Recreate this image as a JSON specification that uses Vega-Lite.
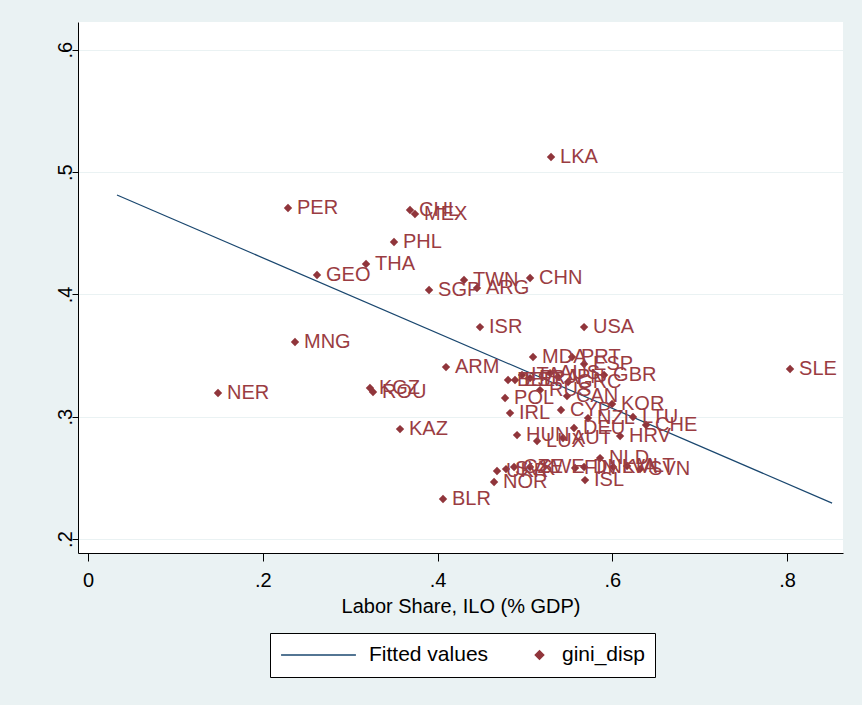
{
  "$schema": "https://vega.github.io/schema/vega-lite/v6.json",
  "width": 765,
  "height": 531,
  "autosize": {"type": "none"},
  "padding": {"left": 78, "top": 22, "right": 19, "bottom": 152},
  "background": "#eaf2f3",
  "config": {
    "view": {"fill": "white", "stroke": null},
    "font": "Liberation Sans",
    "axis": {
      "domainColor": "black", "tickColor": "black", "labelColor": "black", "titleColor": "black",
      "labelFont": "Liberation Sans", "titleFont": "Liberation Sans",
      "labelFontSize": 20, "titleFontSize": 20, "titleFontWeight": "normal",
      "domainWidth": 1, "tickWidth": 1
    }
  },
  "datasets": {
    "fit": [
      {"ls": 0.0332, "gini": 0.4813, "series": "Fitted values"},
      {"ls": 0.8515, "gini": 0.2294, "series": "Fitted values"}
    ],
    "pts": [
      {"country": "LKA", "ls": 0.5299, "gini": 0.5123, "series": "gini_disp"},
      {"country": "PER", "ls": 0.2289, "gini": 0.4706, "series": "gini_disp"},
      {"country": "CHL", "ls": 0.3685, "gini": 0.4690, "series": "gini_disp"},
      {"country": "MEX", "ls": 0.3742, "gini": 0.4657, "series": "gini_disp"},
      {"country": "PHL", "ls": 0.3502, "gini": 0.4428, "series": "gini_disp"},
      {"country": "THA", "ls": 0.3182, "gini": 0.4249, "series": "gini_disp"},
      {"country": "GEO", "ls": 0.2621, "gini": 0.4159, "series": "gini_disp"},
      {"country": "SGP", "ls": 0.3903, "gini": 0.4036, "series": "gini_disp"},
      {"country": "TWN", "ls": 0.4303, "gini": 0.4118, "series": "gini_disp"},
      {"country": "ARG", "ls": 0.4452, "gini": 0.4052, "series": "gini_disp"},
      {"country": "CHN", "ls": 0.5059, "gini": 0.4134, "series": "gini_disp"},
      {"country": "ISR", "ls": 0.4486, "gini": 0.3733, "series": "gini_disp"},
      {"country": "USA", "ls": 0.5677, "gini": 0.3733, "series": "gini_disp"},
      {"country": "MNG", "ls": 0.2369, "gini": 0.3611, "series": "gini_disp"},
      {"country": "ARM", "ls": 0.4097, "gini": 0.3406, "series": "gini_disp"},
      {"country": "MDA", "ls": 0.5093, "gini": 0.3488, "series": "gini_disp"},
      {"country": "PRT", "ls": 0.5539, "gini": 0.3488, "series": "gini_disp"},
      {"country": "ESP", "ls": 0.5677, "gini": 0.3431, "series": "gini_disp"},
      {"country": "GBR", "ls": 0.5906, "gini": 0.3341, "series": "gini_disp"},
      {"country": "SLE", "ls": 0.8034, "gini": 0.3390, "series": "gini_disp"},
      {"country": "NER", "ls": 0.1488, "gini": 0.3194, "series": "gini_disp"},
      {"country": "KGZ", "ls": 0.3227, "gini": 0.3235, "series": "gini_disp"},
      {"country": "ROU", "ls": 0.3262, "gini": 0.3202, "series": "gini_disp"},
      {"country": "KAZ", "ls": 0.3571, "gini": 0.2899, "series": "gini_disp"},
      {"country": "BLR", "ls": 0.4063, "gini": 0.2327, "series": "gini_disp"},
      {"country": "BEL", "ls": 0.4807, "gini": 0.3300, "series": "gini_disp"},
      {"country": "EST", "ls": 0.4887, "gini": 0.3300, "series": "gini_disp"},
      {"country": "ITA", "ls": 0.4967, "gini": 0.3341, "series": "gini_disp"},
      {"country": "FRA", "ls": 0.5059, "gini": 0.3316, "series": "gini_disp"},
      {"country": "AUS", "ls": 0.5288, "gini": 0.3357, "series": "gini_disp"},
      {"country": "JPN", "ls": 0.5379, "gini": 0.3325, "series": "gini_disp"},
      {"country": "GRC", "ls": 0.5494, "gini": 0.3284, "series": "gini_disp"},
      {"country": "RUS", "ls": 0.5173, "gini": 0.3218, "series": "gini_disp"},
      {"country": "POL", "ls": 0.4773, "gini": 0.3153, "series": "gini_disp"},
      {"country": "IRL", "ls": 0.4830, "gini": 0.3030, "series": "gini_disp"},
      {"country": "CYP", "ls": 0.5413, "gini": 0.3055, "series": "gini_disp"},
      {"country": "CAN", "ls": 0.5482, "gini": 0.3169, "series": "gini_disp"},
      {"country": "KOR", "ls": 0.5997, "gini": 0.3104, "series": "gini_disp"},
      {"country": "NZL", "ls": 0.5722, "gini": 0.2989, "series": "gini_disp"},
      {"country": "LTU", "ls": 0.6237, "gini": 0.2998, "series": "gini_disp"},
      {"country": "HUN", "ls": 0.4910, "gini": 0.2850, "series": "gini_disp"},
      {"country": "LUX", "ls": 0.5139, "gini": 0.2801, "series": "gini_disp"},
      {"country": "AUT", "ls": 0.5436, "gini": 0.2826, "series": "gini_disp"},
      {"country": "DEU", "ls": 0.5562, "gini": 0.2908, "series": "gini_disp"},
      {"country": "CHE", "ls": 0.6386, "gini": 0.2932, "series": "gini_disp"},
      {"country": "HRV", "ls": 0.6089, "gini": 0.2842, "series": "gini_disp"},
      {"country": "NLD", "ls": 0.5860, "gini": 0.2662, "series": "gini_disp"},
      {"country": "NOR", "ls": 0.4647, "gini": 0.2466, "series": "gini_disp"},
      {"country": "ISL", "ls": 0.5688, "gini": 0.2482, "series": "gini_disp"},
      {"country": "UKR", "ls": 0.4681, "gini": 0.2556, "series": "gini_disp"},
      {"country": "SVK", "ls": 0.4784, "gini": 0.2572, "series": "gini_disp"},
      {"country": "CZE", "ls": 0.4876, "gini": 0.2589, "series": "gini_disp"},
      {"country": "SWE", "ls": 0.5059, "gini": 0.2589, "series": "gini_disp"},
      {"country": "FIN", "ls": 0.5574, "gini": 0.2581, "series": "gini_disp"},
      {"country": "DNK", "ls": 0.5677, "gini": 0.2589, "series": "gini_disp"},
      {"country": "LVA", "ls": 0.6009, "gini": 0.2589, "series": "gini_disp"},
      {"country": "MLT", "ls": 0.6169, "gini": 0.2597, "series": "gini_disp"},
      {"country": "SVN", "ls": 0.6318, "gini": 0.2572, "series": "gini_disp"}
    ]
  },
  "encoding": {
    "x": {
      "field": "ls", "type": "quantitative",
      "scale": {"domain": [-0.0114, 0.864], "nice": false, "zero": false},
      "axis": {
        "values": [0, 0.2, 0.4, 0.6, 0.8],
        "labelExpr": "datum.value == 0 ? '0' : replace(format(datum.value, '.1f'), '0.', '.')",
        "title": "Labor Share, ILO (% GDP)",
        "grid": false, "tickSize": 8, "labelPadding": 9, "titlePadding": 6
      }
    },
    "y": {
      "field": "gini", "type": "quantitative",
      "scale": {"domain": [0.1886, 0.6227], "nice": false, "zero": false},
      "axis": {
        "values": [0.2, 0.3, 0.4, 0.5, 0.6],
        "labelExpr": "replace(format(datum.value, '.1f'), '0.', '.')",
        "title": null, "labelAngle": -90,
        "grid": true, "gridColor": "#eaf2f3", "gridWidth": 1,
        "tickSize": 6, "labelPadding": -3
      }
    }
  },
  "layer": [
    {
      "data": {"name": "fit"},
      "mark": {"type": "line", "strokeWidth": 1.2},
      "encoding": {
        "color": {
          "field": "series", "type": "nominal", "title": null,
          "scale": {"domain": ["Fitted values", "gini_disp"], "range": ["#1a476f", "#90353b"]},
          "legend": {"orient": "none", "legendX": 192, "legendY": 611, "direction": "horizontal", "strokeColor": "black", "fillColor": "white", "padding": 10, "clipHeight": 24, "labelFontSize": 21, "labelFont": "Liberation Sans", "labelColor": "black", "labelOffset": 12, "columnPadding": 40, "symbolStrokeWidth": 1.5}
        }
      }
    },
    {
      "data": {"name": "pts"},
      "mark": {"type": "point", "filled": true, "opacity": 1},
      "encoding": {
        "color": {
          "field": "series", "type": "nominal", "title": null,
          "scale": {"domain": ["Fitted values", "gini_disp"], "range": ["#1a476f", "#90353b"]},
          "legend": {"orient": "none", "legendX": 192, "legendY": 611, "direction": "horizontal", "strokeColor": "black", "fillColor": "white", "padding": 10, "clipHeight": 24, "labelFontSize": 21, "labelFont": "Liberation Sans", "labelColor": "black", "labelOffset": 12, "columnPadding": 40, "symbolStrokeWidth": 1.5}
        },
        "shape": {
          "field": "series", "type": "nominal", "title": null,
          "scale": {"domain": ["Fitted values", "gini_disp"], "range": ["stroke", "diamond"]},
          "legend": {"orient": "none", "legendX": 192, "legendY": 611, "direction": "horizontal", "strokeColor": "black", "fillColor": "white", "padding": 10, "clipHeight": 24, "labelFontSize": 21, "labelFont": "Liberation Sans", "labelColor": "black", "labelOffset": 12, "columnPadding": 40, "symbolStrokeWidth": 1.5}
        },
        "size": {
          "field": "series", "type": "nominal", "title": null,
          "scale": {"domain": ["Fitted values", "gini_disp"], "range": [5600, 70]},
          "legend": {"orient": "none", "legendX": 192, "legendY": 611, "direction": "horizontal", "strokeColor": "black", "fillColor": "white", "padding": 10, "clipHeight": 24, "labelFontSize": 21, "labelFont": "Liberation Sans", "labelColor": "black", "labelOffset": 12, "columnPadding": 40, "symbolStrokeWidth": 1.5}
        }
      }
    },
    {
      "data": {"name": "pts"},
      "mark": {"type": "text", "align": "left", "baseline": "middle", "dx": 9, "fontSize": 20, "font": "Liberation Sans", "color": "#9a3c42"},
      "encoding": {"text": {"field": "country"}}
    }
  ]
}
